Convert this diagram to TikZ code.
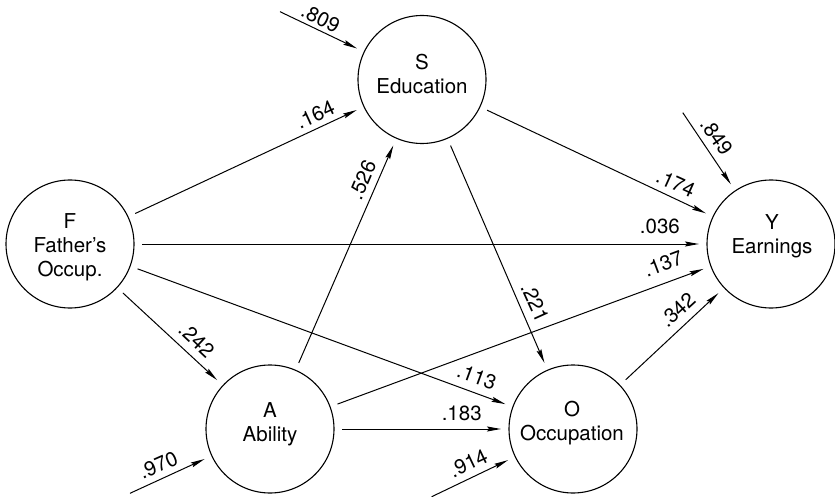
\documentclass[tikz,border=0pt]{standalone}
\usepackage{fontspec}
\setmainfont{TeX Gyre Heros}
\usetikzlibrary{arrows.meta}
\begin{document}
\begin{tikzpicture}[x=1pt,y=-1pt,
  circ/.style={circle,draw,line width=1.1pt,minimum size=128pt,inner sep=0pt,outer sep=8pt},
  ntext/.style={align=center,inner sep=0pt,font=\fontsize{20.5}{24}\selectfont},
  lab/.style={inner sep=0pt,font=\fontsize{20.5}{24}\selectfont},
  arr/.style={line width=1pt,-{Stealth[length=14pt,width=5pt,inset=2pt]}}]
\useasboundingbox (0,0) rectangle (835,497);
% circles
\node[circ] (S) at (422,79.5) {};
\node[circ] (F) at (70,244) {};
\node[circ] (A) at (270,429) {};
\node[circ] (O) at (573,429) {};
\node[circ] (Y) at (771,244) {};
% node texts
\node[ntext] (St) at (422,74.2) {S\\Education};
\node[ntext] (Ft) at (70,247.5) {F\\Father’s\\Occup.};
\node[ntext] (At) at (270,424.5) {A\\Ability};
\node[ntext] (Ot) at (572,423.3) {O\\Occupation};
\node[ntext] (Yt) at (772,236.2) {Y\\Earnings};
% residual origins
\coordinate (eS) at (280,11.7);
\coordinate (eY) at (682.8,112.7);
\coordinate (eA) at (130,493.3);
\coordinate (eO) at (431.7,496.7);
% paths
\draw[arr] (F) -- (S);
\draw[arr] (F) -- (Y);
\draw[arr] (F) -- (O);
\draw[arr] (F) -- (A);
\draw[arr] (A) -- (S);
\draw[arr] (A) -- (Y);
\draw[arr] (A) -- (O);
\draw[arr] (S) -- (Y);
\draw[arr] (S) -- (O);
\draw[arr] (O) -- (Y);
\draw[arr] (eS) -- (S);
\draw[arr] (eY) -- (Y);
\draw[arr] (eA) -- (A);
\draw[arr] (eO) -- (O);
% labels
\node[lab,rotate=-26.6] (l809) at (320.6,18.3) {.809};
\node[lab,rotate=24.6] (l164) at (315.3,115) {.164};
\node[lab,rotate=66.8] (l526) at (362.5,180) {.526};
\node[lab,rotate=-24.4] (l174) at (675.8,183.3) {.174};
\node[lab,rotate=-54.7] (l849) at (716.4,136.7) {.849};
\node[lab] (l036) at (659.9,226.7) {.036};
\node[lab,rotate=20.5] (l137) at (663.4,264) {.137};
\node[lab,rotate=-65.6] (l221) at (535,302.5) {.221};
\node[lab,rotate=42.3] (l342) at (677.5,310) {.342};
\node[lab,rotate=-20.2] (l113) at (476.7,376.7) {.113};
\node[lab] (l183) at (461.7,413.3) {.183};
\node[lab,rotate=25.5] (l914) at (468.3,463.3) {.914};
\node[lab,rotate=24] (l970) at (158.3,465) {.970};
\node[lab,rotate=-43.2] (l242) at (196.7,340) {.242};
\end{tikzpicture}
\end{document}
